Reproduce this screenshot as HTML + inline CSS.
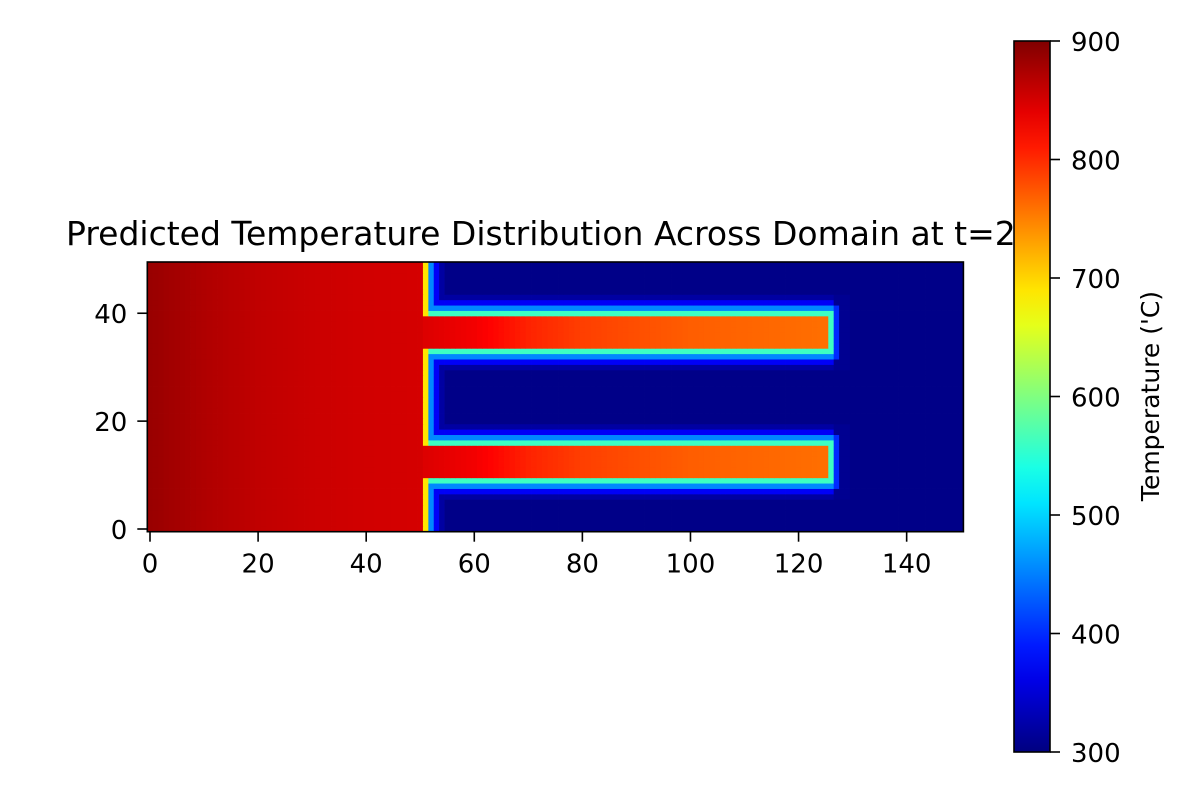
<!DOCTYPE html>
<html><head><meta charset="utf-8"><style>
html,body{margin:0;padding:0;background:#fff;}
svg{display:block;font-family:"DejaVu Sans","Liberation Sans",sans-serif;}
</style></head><body>
<svg id="chart" width="1200" height="800">
<rect width="1200" height="800" fill="#fff"/>
<defs><clipPath id="tclip"><rect x="0" y="190" width="1014" height="70"/></clipPath>
<linearGradient id="jet" x1="0" y1="1" x2="0" y2="0"></linearGradient></defs>
<text x="66" y="245" font-size="33" fill="#000" clip-path="url(#tclip)">Predicted Temperature Distribution Across Domain at t=20s</text>
<g id="cells"></g>
<rect x="147.3" y="262" width="816.1" height="269.7" fill="none" stroke="#000" stroke-width="1.6"/>
<g id="xticks"></g>
<g id="yticks"></g>
<rect x="1014" y="41" width="36" height="711" fill="url(#jet)" stroke="#000" stroke-width="1.6"/>
<g id="cticks"></g>
<text transform="translate(1159,396) rotate(-90)" font-size="25" text-anchor="middle">Temperature ('C)</text>
</svg>
<script>
const nCols = 151, nRows = 50;
const blockEnd = 50;
const fingerEnd = 125;
const fingers = [[10,15],[34,39]];
const blockProfileX = [0,10,20,30,40,50];
const blockProfileT = [885,872,862,856,852,850];
const fingerProfileX = [51,60,70,80,100,125];
const fingerProfileT = [845,832,805,788,770,760];
const halo = [560,455,370,320];
const xTicks = [0,20,40,60,80,100,120,140];
const yTicks = [0,20,40];
const cTicks = [300,400,500,600,700,800,900];
const vmin = 300, vmax = 900;

const X0=147.3, X1=963.4, Y0=531.7, Y1=262;
const xs = v => X0 + (v+0.5)*(X1-X0)/nCols;
const ys = v => Y0 - (v+0.5)*(Y0-Y1)/nRows;
const cs = v => 752 - (v-vmin)/(vmax-vmin)*711;
function clip(v){return Math.max(0,Math.min(1,v));}
function jet(t){t=clip(t);const r=clip(1.5-Math.abs(4*t-3)),g=clip(1.5-Math.abs(4*t-2)),b=clip(1.5-Math.abs(4*t-1));
return `rgb(${Math.round(r*255)},${Math.round(g*255)},${Math.round(b*255)})`;}
function interp(xa,ta,x){if(x<=xa[0])return ta[0];for(let i=1;i<xa.length;i++){if(x<=xa[i]){const f=(x-xa[i-1])/(xa[i]-xa[i-1]);return ta[i-1]+f*(ta[i]-ta[i-1]);}}return ta[ta.length-1];}
function hot(c,r){
 if(c<=blockEnd) return interp(blockProfileX,blockProfileT,c);
 for(const f of fingers){ if(c<=fingerEnd && r>=f[0] && r<=f[1]) return interp(fingerProfileX,fingerProfileT,c);}
 return null;}
const field=[];
for(let r=0;r<nRows;r++){field.push([]);for(let c=0;c<nCols;c++){
 let h=hot(c,r); if(h!==null){field[r].push(h);continue;}
 let best=99;
 for(let rr=Math.max(0,r-4);rr<=Math.min(nRows-1,r+4);rr++)for(let cc=Math.max(0,c-4);cc<=Math.min(nCols-1,c+4);cc++){
   if(hot(cc,rr)!==null){const d=Math.max(Math.abs(cc-c),Math.abs(rr-r));if(d<best)best=d;}}
 let v=305;
 if(best<=halo.length){v=halo[best-1]; if(best===1 && c===blockEnd+1) v=690; if(c>fingerEnd+1 && best>1) v=(best===2?400:310);}
 field[r].push(v);}}
const NS="http://www.w3.org/2000/svg";
const g=document.getElementById('cells');
const w=(X1-X0)/nCols, h=(Y0-Y1)/nRows;
for(let r=0;r<nRows;r++)for(let c=0;c<nCols;c++){
 const el=document.createElementNS(NS,'rect');
 
 
 el.setAttribute('x',xs(c)-w/2);el.setAttribute('y',ys(r)-h/2);
 el.setAttribute('width',w+0.4);el.setAttribute('height',h+0.4);
 el.setAttribute('fill',jet((field[r][c]-vmin)/(vmax-vmin)));
 g.appendChild(el);}
const gx=document.getElementById('xticks');
xTicks.forEach(v=>{const x=xs(v);
 const l=document.createElementNS(NS,'line');
 
 
 l.setAttribute('x1',x);l.setAttribute('x2',x);l.setAttribute('y1',Y0);l.setAttribute('y2',Y0+10);l.setAttribute('stroke','#000');l.setAttribute('stroke-width','1.6');gx.appendChild(l);
 const t=document.createElementNS(NS,'text');
 
 
 t.setAttribute('x',x);t.setAttribute('y',Y0+41);t.setAttribute('font-size','26');t.setAttribute('text-anchor','middle');t.textContent=v;gx.appendChild(t);});
const gy=document.getElementById('yticks');
yTicks.forEach(v=>{const y=ys(v);
 const l=document.createElementNS(NS,'line');
 
 
 l.setAttribute('x1',X0-10);l.setAttribute('x2',X0);l.setAttribute('y1',y);l.setAttribute('y2',y);l.setAttribute('stroke','#000');l.setAttribute('stroke-width','1.6');gy.appendChild(l);
 const t=document.createElementNS(NS,'text');
 
 
 t.setAttribute('x',X0-20);t.setAttribute('y',y+10);t.setAttribute('font-size','26');t.setAttribute('text-anchor','end');t.textContent=v;gy.appendChild(t);});
const grad=document.getElementById('jet');
for(let i=0;i<=20;i++){const s=document.createElementNS(NS,'stop');s.setAttribute('offset',i/20);s.setAttribute('stop-color',jet(i/20));grad.appendChild(s);}
const gc=document.getElementById('cticks');
cTicks.forEach(v=>{const y=cs(v);
 const l=document.createElementNS(NS,'line');
 
 
 l.setAttribute('x1',1050);l.setAttribute('x2',1060);l.setAttribute('y1',y);l.setAttribute('y2',y);l.setAttribute('stroke','#000');l.setAttribute('stroke-width','1.6');gc.appendChild(l);
 const t=document.createElementNS(NS,'text');
 
 
 t.setAttribute('x',1071);t.setAttribute('y',y+10);t.setAttribute('font-size','26');t.textContent=v;gc.appendChild(t);});
</script>
</body></html>
